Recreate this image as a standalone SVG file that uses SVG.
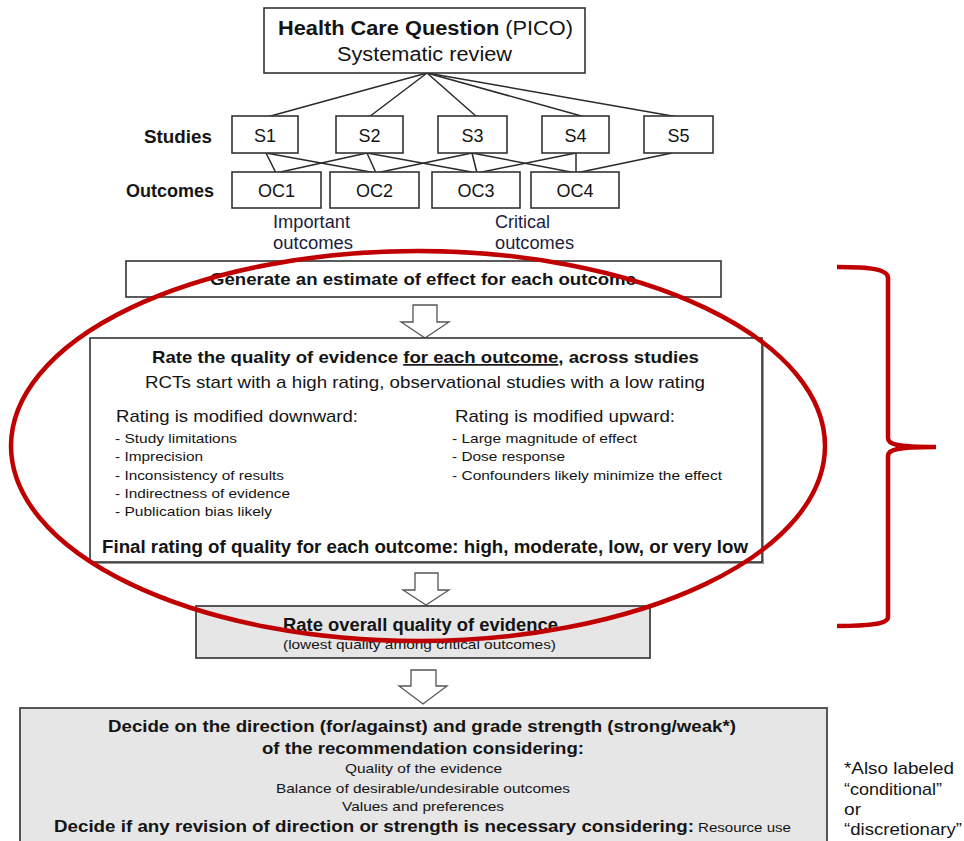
<svg xmlns="http://www.w3.org/2000/svg" width="964" height="841" viewBox="0 0 964 841">
  <style>
    text { font-family: "Liberation Sans", Arial, sans-serif; fill: #141414; }
    .b { font-weight: bold; }
    .box { fill: #ffffff; stroke: #333333; stroke-width: 1.6; }
    .gray { fill: #e6e6e6; stroke: #444444; stroke-width: 1.8; }
    .link { stroke: #2a2a2a; stroke-width: 1.5; fill: none; }
    .arrow { fill: #ffffff; stroke: #555555; stroke-width: 1.3; }
    .navy { fill: #1c1c40; }
    .red { fill: none; stroke: #c00000; stroke-width: 4.5; }
  </style>

  <!-- connectors: review to studies, studies to outcomes -->
  <g id="connectors">
    <line class="link" x1="427" y1="73" x2="267" y2="117"/>
    <line class="link" x1="427" y1="73" x2="369" y2="117"/>
    <line class="link" x1="427" y1="73" x2="477" y2="117"/>
    <line class="link" x1="427" y1="73" x2="585" y2="117"/>
    <line class="link" x1="427" y1="73" x2="678" y2="117"/>

    <line class="link" x1="266" y1="153" x2="276" y2="173"/>
    <line class="link" x1="266" y1="153" x2="376" y2="173"/>
    <line class="link" x1="367" y1="153" x2="276" y2="173"/>
    <line class="link" x1="367" y1="153" x2="376" y2="173"/>
    <line class="link" x1="367" y1="153" x2="477" y2="173"/>
    <line class="link" x1="472" y1="153" x2="376" y2="173"/>
    <line class="link" x1="472" y1="153" x2="477" y2="173"/>
    <line class="link" x1="472" y1="153" x2="576" y2="173"/>
    <line class="link" x1="576" y1="153" x2="477" y2="173"/>
    <line class="link" x1="576" y1="153" x2="576" y2="173"/>
    <line class="link" x1="672" y1="153" x2="576" y2="173"/>
  </g>

  <!-- flow arrows -->
  <g id="flow-arrows">
    <polygon class="arrow" points="413,305 437,305 437,322 449,322 425,338 401,322 413,322"/>
    <polygon class="arrow" points="415,573 438,573 438,590 449,590 426,605 403,590 415,590"/>
    <polygon class="arrow" points="411,670 436,670 436,686 447,686 423,704 399,686 411,686"/>
  </g>

  <g id="question">
    <rect class="box" x="264" y="8" width="321" height="65"/>
    <text x="278" y="35" font-size="20" textLength="295" lengthAdjust="spacingAndGlyphs"><tspan class="b">Health Care Question</tspan> (PICO)</text>
    <text x="337" y="61" font-size="20" textLength="175" lengthAdjust="spacingAndGlyphs">Systematic review</text>
  </g>

  <g id="row-labels">
    <text class="b" x="144" y="143" font-size="17.5" textLength="68" lengthAdjust="spacingAndGlyphs">Studies</text>
    <text class="b" x="126" y="197" font-size="17.5" textLength="88" lengthAdjust="spacingAndGlyphs">Outcomes</text>
  </g>

  <g id="s1"><rect class="box" x="232" y="116" width="66" height="37"/><text x="265" y="142" font-size="18" text-anchor="middle">S1</text></g>
  <g id="s2"><rect class="box" x="336" y="116" width="67" height="37"/><text x="369.5" y="142" font-size="18" text-anchor="middle">S2</text></g>
  <g id="s3"><rect class="box" x="438" y="116" width="69" height="37"/><text x="472.5" y="142" font-size="18" text-anchor="middle">S3</text></g>
  <g id="s4"><rect class="box" x="542" y="116" width="67" height="37"/><text x="575.5" y="142" font-size="18" text-anchor="middle">S4</text></g>
  <g id="s5"><rect class="box" x="644" y="116" width="69" height="37"/><text x="678.5" y="142" font-size="18" text-anchor="middle">S5</text></g>

  <g id="oc1"><rect class="box" x="232" y="172" width="89" height="36"/><text x="276.5" y="197" font-size="18" text-anchor="middle">OC1</text></g>
  <g id="oc2"><rect class="box" x="330" y="172" width="89" height="36"/><text x="374.5" y="197" font-size="18" text-anchor="middle">OC2</text></g>
  <g id="oc3"><rect class="box" x="432" y="172" width="88" height="36"/><text x="476" y="197" font-size="18" text-anchor="middle">OC3</text></g>
  <g id="oc4"><rect class="box" x="531" y="172" width="88" height="36"/><text x="575" y="197" font-size="18" text-anchor="middle">OC4</text></g>

  <g id="outcome-groups">
    <text class="navy" x="273" y="228" font-size="17.5" textLength="77" lengthAdjust="spacingAndGlyphs">Important</text>
    <text class="navy" x="273" y="249" font-size="17.5" textLength="80" lengthAdjust="spacingAndGlyphs">outcomes</text>
    <text class="navy" x="495" y="228" font-size="17.5" textLength="55" lengthAdjust="spacingAndGlyphs">Critical</text>
    <text class="navy" x="495" y="249" font-size="17.5" textLength="79" lengthAdjust="spacingAndGlyphs">outcomes</text>
  </g>

  <g id="estimate">
    <rect class="box" x="126" y="261" width="595" height="36"/>
    <text class="b" x="210" y="285" font-size="17" textLength="426" lengthAdjust="spacingAndGlyphs">Generate an estimate of effect for each outcome</text>
  </g>

  <g id="rate-quality">
    <rect x="92" y="340" width="672" height="224" fill="#9a9a9a"/>
    <rect class="box" x="90" y="338" width="672" height="224"/>
    <text class="b" x="152" y="363" font-size="17" textLength="547" lengthAdjust="spacingAndGlyphs">Rate the quality of evidence <tspan text-decoration="underline">for each outcome</tspan>, across studies</text>
    <text x="145" y="388" font-size="17" textLength="560" lengthAdjust="spacingAndGlyphs">RCTs start with a high rating, observational studies with a low rating</text>

    <text x="116" y="422" font-size="17" textLength="242" lengthAdjust="spacingAndGlyphs">Rating is modified downward:</text>
    <text x="115" y="443" font-size="13.5" textLength="122" lengthAdjust="spacingAndGlyphs">- Study limitations</text>
    <text x="115" y="461" font-size="13.5" textLength="88" lengthAdjust="spacingAndGlyphs">- Imprecision</text>
    <text x="115" y="480" font-size="13.5" textLength="169" lengthAdjust="spacingAndGlyphs">- Inconsistency of results</text>
    <text x="115" y="498" font-size="13.5" textLength="175" lengthAdjust="spacingAndGlyphs">- Indirectness of evidence</text>
    <text x="115" y="516" font-size="13.5" textLength="157" lengthAdjust="spacingAndGlyphs">- Publication bias likely</text>

    <text x="455" y="422" font-size="17" textLength="220" lengthAdjust="spacingAndGlyphs">Rating is modified upward:</text>
    <text x="452" y="443" font-size="13.5" textLength="185" lengthAdjust="spacingAndGlyphs">- Large magnitude of effect</text>
    <text x="452" y="461" font-size="13.5" textLength="113" lengthAdjust="spacingAndGlyphs">- Dose response</text>
    <text x="452" y="480" font-size="13.5" textLength="270" lengthAdjust="spacingAndGlyphs">- Confounders likely minimize the effect</text>

    <text class="b" x="102" y="553" font-size="17.5" textLength="646" lengthAdjust="spacingAndGlyphs">Final rating of quality for each outcome: high, moderate, low, or very low</text>
  </g>

  <g id="overall">
    <rect class="gray" x="196" y="606" width="454" height="52"/>
    <text class="b" x="283" y="631" font-size="18" textLength="275" lengthAdjust="spacingAndGlyphs">Rate overall quality of evidence</text>
    <text x="283" y="649" font-size="13" textLength="273" lengthAdjust="spacingAndGlyphs">(lowest quality among critical outcomes)</text>
  </g>

  <g id="recommendation">
    <rect class="gray" x="20" y="708" width="807" height="140"/>
    <text class="b" x="108" y="732" font-size="17" textLength="628" lengthAdjust="spacingAndGlyphs">Decide on the direction (for/against) and grade strength (strong/weak*)</text>
    <text class="b" x="262" y="754" font-size="17" textLength="322" lengthAdjust="spacingAndGlyphs">of the recommendation considering:</text>
    <text x="345" y="773" font-size="13" textLength="157" lengthAdjust="spacingAndGlyphs">Quality of the evidence</text>
    <text x="276" y="793" font-size="13" textLength="294" lengthAdjust="spacingAndGlyphs">Balance of desirable/undesirable outcomes</text>
    <text x="342" y="811" font-size="13" textLength="162" lengthAdjust="spacingAndGlyphs">Values and preferences</text>
    <text class="b" x="54" y="832" font-size="17" textLength="640" lengthAdjust="spacingAndGlyphs">Decide if any revision of direction or strength is necessary considering:</text>
    <text x="698" y="832" font-size="13" textLength="93" lengthAdjust="spacingAndGlyphs">Resource use</text>
  </g>

  <g id="footnote">
    <text x="844" y="774" font-size="17" textLength="110" lengthAdjust="spacingAndGlyphs">*Also labeled</text>
    <text x="844" y="795" font-size="17" textLength="98" lengthAdjust="spacingAndGlyphs">“conditional”</text>
    <text x="844" y="815" font-size="17" textLength="17" lengthAdjust="spacingAndGlyphs">or</text>
    <text x="844" y="835" font-size="17" textLength="118" lengthAdjust="spacingAndGlyphs">“discretionary”</text>
  </g>

  <!-- red annotation: ellipse around the rating step and brace spanning it -->
  <g id="highlight">
    <ellipse class="red" cx="418" cy="446" rx="407" ry="195"/>
    <path class="red" d="M837,267 C870,267 888,269 888,278 L888,438 C888,444 895,447 936,447 C895,447 888,450 888,456 L888,617 C888,624 870,626 837,626"/>
  </g>
</svg>
